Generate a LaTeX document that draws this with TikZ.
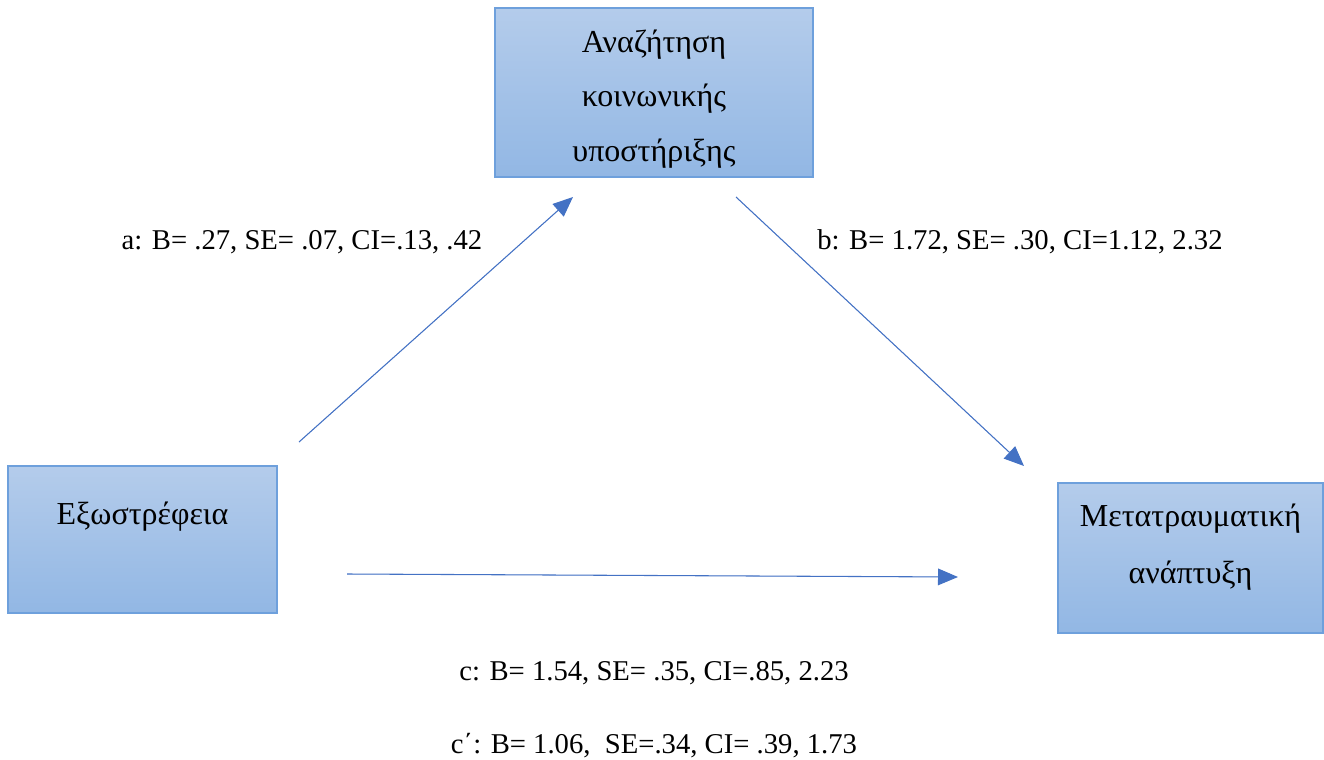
\documentclass[tikz,border=0pt]{standalone}
\usepackage{fontspec}
\setmainfont{Liberation Serif}
\usetikzlibrary{arrows.meta}

\definecolor{boxtop}{RGB}{180,204,235}
\definecolor{boxbot}{RGB}{146,183,228}
\definecolor{boxline}{RGB}{110,160,220}
\definecolor{linkblue}{RGB}{68,114,196}

\begin{document}
\begin{tikzpicture}[x=0.75pt, y=-0.75pt, >={Triangle[length=15pt, width=12.5pt]},
  box/.style={draw=boxline, line width=1.2pt, top color=boxtop, bottom color=boxbot, inner sep=0pt},
  txt/.style={font=\fontsize{21.5pt}{41pt}\selectfont, align=center, inner sep=0pt},
  greek/.style={txt, font=\fontsize{24pt}{41pt}\selectfont},
  link/.style={->, draw=linkblue, fill=linkblue, line width=0.8pt}]
\useasboundingbox (0,0) rectangle (1324,760);

% variables
\node [box, minimum width=238.5pt, minimum height=126.75pt] (seeking) at (654,92.5) {};
\node [box, minimum width=201.75pt, minimum height=110.25pt] (extra) at (142.5,539.5) {};
\node [box, minimum width=198.75pt, minimum height=112.5pt] (growth) at (1190.5,558) {};

\node [greek] (seeking-text) at (654,99) {Αναζήτηση\\κοινωνικής\\υποστήριξης};
\node [greek, anchor=base] (extra-text) at (142.5,524) {Εξωστρέφεια};
\node [greek, font=\fontsize{24pt}{43pt}\selectfont] (growth-text) at (1190.5,547) {Μετατραυματική\\ανάπτυξη};

% paths
\coordinate (a-start) at (299,442);
\coordinate (a-end) at (573,197);
\coordinate (b-start) at (736,197);
\coordinate (b-end) at (1024,466);
\coordinate (c-start) at (347,574);
\coordinate (c-end) at (958,577);

\foreach \p in {a,b,c}
  \draw [link] (\p-start) -- (\p-end);

% coefficients
\node [txt, anchor=base] (a-label) at (302,249) {a: B= .27, SE= .07, CI=.13, .42};
\node [txt, anchor=base] (b-label) at (1020,249) {b: B= 1.72, SE= .30, CI=1.12, 2.32};
\node [txt, anchor=base] (c-label) at (654,680) {c: B= 1.54, SE= .35, CI=.85, 2.23};
\node [txt, anchor=base] (cp-label) at (654,753) {c΄: B= 1.06,\ \ SE=.34, CI= .39, 1.73};
\end{tikzpicture}
\end{document}
